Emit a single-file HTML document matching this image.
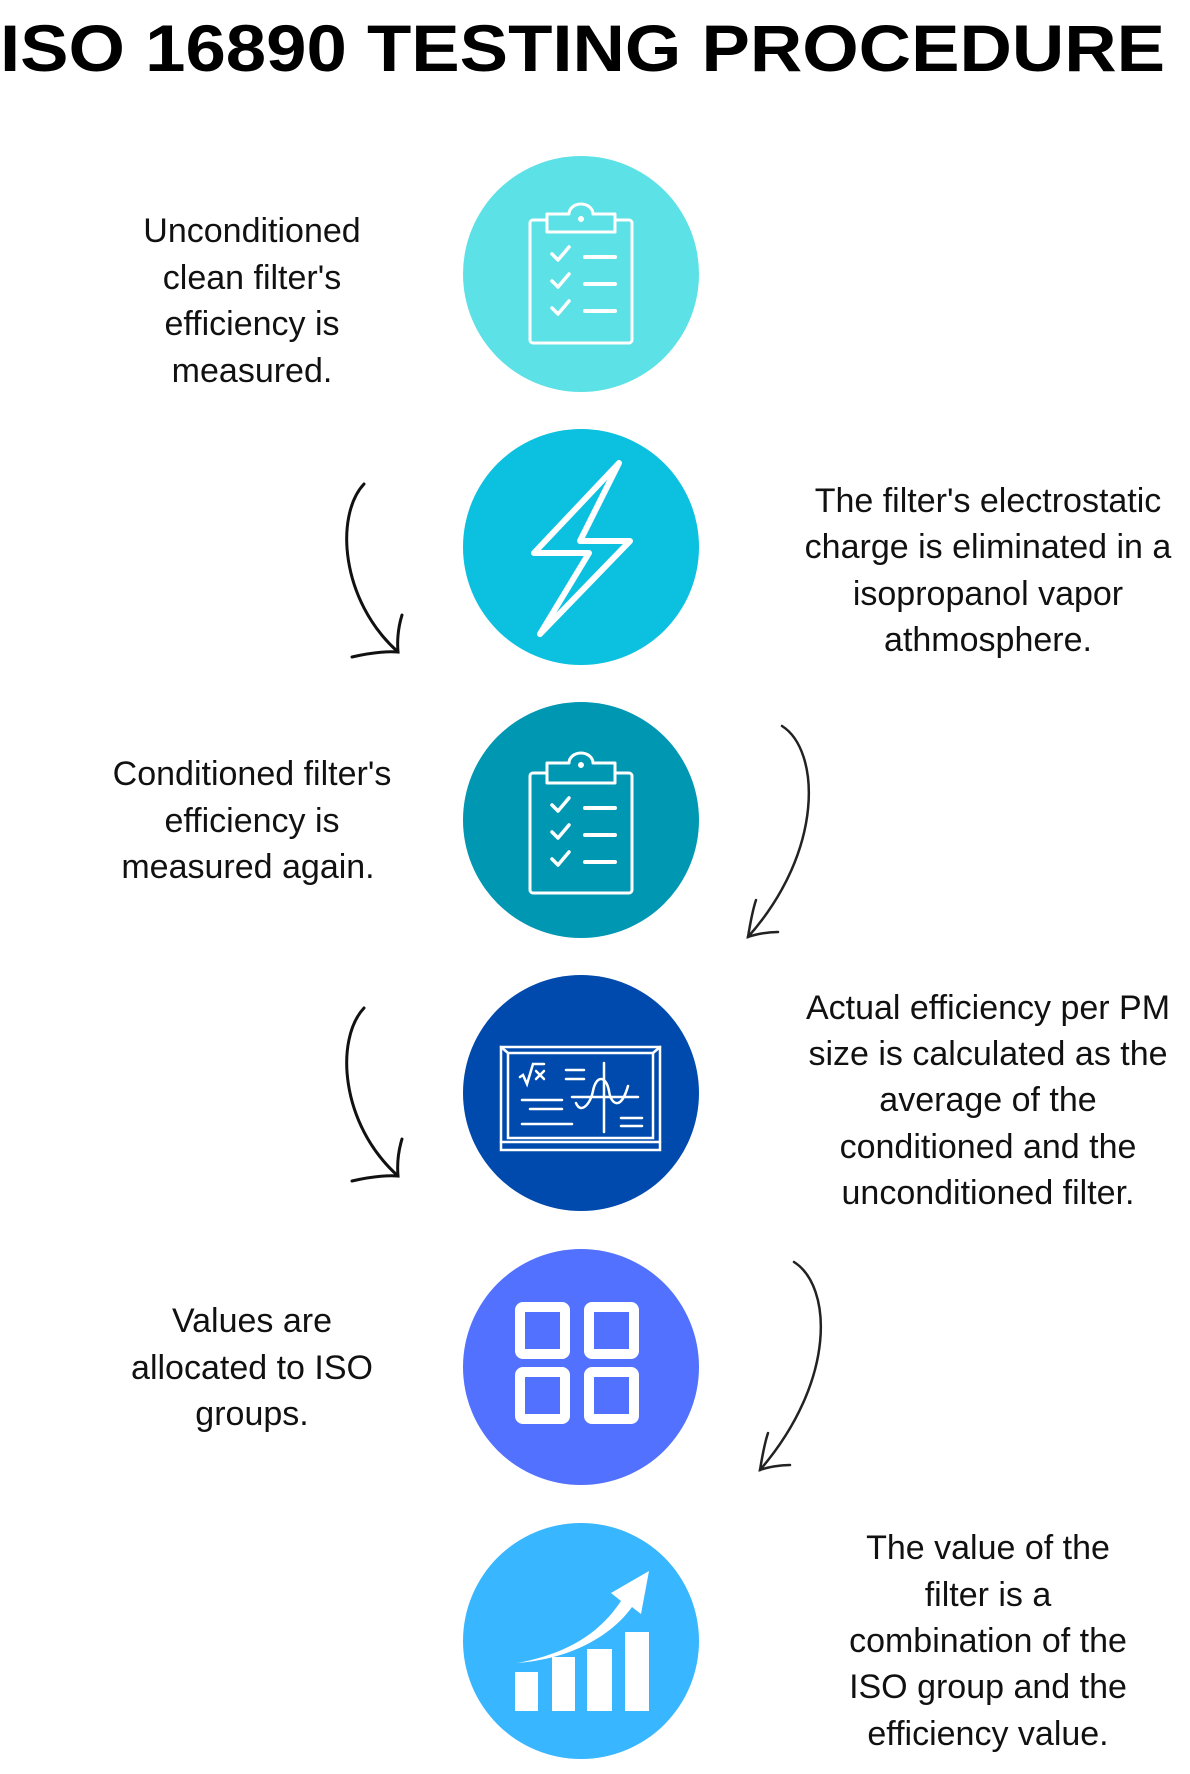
<!DOCTYPE html>
<html><head><meta charset="utf-8"><style>
html,body{margin:0;padding:0;background:#fff;}
body{width:1190px;height:1774px;overflow:hidden;}
svg{display:block;}
text{font-family:"Liberation Sans",sans-serif;}
</style></head><body>
<svg width="1190" height="1774" viewBox="0 0 1190 1774" xmlns="http://www.w3.org/2000/svg">
<text x="0" y="71" font-size="66" font-weight="bold" textLength="1165" lengthAdjust="spacingAndGlyphs" fill="#000">ISO 16890 TESTING PROCEDURE</text>

<g font-size="34" fill="#111" text-anchor="middle">
<text x="252" y="242">Unconditioned</text>
<text x="252" y="289">clean filter's</text>
<text x="252" y="335">efficiency is</text>
<text x="252" y="382">measured.</text>

<text x="988" y="512">The filter's electrostatic</text>
<text x="988" y="558">charge is eliminated in a</text>
<text x="988" y="605">isopropanol vapor</text>
<text x="988" y="651">athmosphere.</text>

<text x="252" y="785">Conditioned filter's</text>
<text x="252" y="832">efficiency is</text>
<text x="248" y="878">measured again.</text>

<text x="988" y="1019">Actual efficiency per PM</text>
<text x="988" y="1065">size is calculated as the</text>
<text x="988" y="1111">average of the</text>
<text x="988" y="1158">conditioned and the</text>
<text x="988" y="1204">unconditioned filter.</text>

<text x="252" y="1332">Values are</text>
<text x="252" y="1379">allocated to ISO</text>
<text x="252" y="1425">groups.</text>

<text x="988" y="1559">The value of the</text>
<text x="988" y="1606">filter is a</text>
<text x="988" y="1652">combination of the</text>
<text x="988" y="1698">ISO group and the</text>
<text x="988" y="1745">efficiency value.</text>
</g>

<circle cx="581" cy="274" r="118" fill="#5ce1e6"/>
<circle cx="581" cy="547" r="118" fill="#0cc0df"/>
<circle cx="581" cy="820" r="118" fill="#0097b2"/>
<circle cx="581" cy="1093" r="118" fill="#004aad"/>
<circle cx="581" cy="1367" r="118" fill="#5271ff"/>
<circle cx="581" cy="1641" r="118" fill="#38b6ff"/>

<g transform="translate(581,274)" fill="none" stroke="#fff" stroke-width="3" stroke-linecap="round" stroke-linejoin="round">
<rect x="-51" y="-54" width="102" height="123" rx="3"/>
<path d="M-34,-60 h22 a12,10 0 0 1 24,0 h22 v18 h-68 z" fill="#5ce1e6"/>
<circle cx="0" cy="-55" r="1.5" fill="#fff"/>
<path d="M-29,-20 l6,6 l11,-13 M-29,7 l6,6 l11,-13 M-29,34 l6,6 l11,-13" stroke-width="3.5"/>
<path d="M4,-17 h30 M4,10 h30 M4,37 h30" stroke-width="4"/>
</g>
<g transform="translate(581,820)" fill="none" stroke="#fff" stroke-width="3" stroke-linecap="round" stroke-linejoin="round">
<rect x="-51" y="-47" width="102" height="120" rx="3"/>
<path d="M-34,-57 h22 a12,10 0 0 1 24,0 h22 v20 h-68 z" fill="#0097b2"/>
<circle cx="0" cy="-55" r="1.5" fill="#fff"/>
<path d="M-29,-15 l6,6 l11,-13 M-29,12 l6,6 l11,-13 M-29,39 l6,6 l11,-13" stroke-width="3.5"/>
<path d="M4,-12 h30 M4,15 h30 M4,42 h30" stroke-width="4"/>
</g>

<path transform="translate(581,547)" d="M38,-84 L-47,6 L8,6 L-41,87 L49,-6 L-1,-6 Z" fill="none" stroke="#fff" stroke-width="6" stroke-linejoin="round"/>

<g transform="translate(581,1093)" fill="none" stroke="#fff" stroke-width="2.5" stroke-linecap="round">
<rect x="-80" y="-46" width="159" height="103"/>
<rect x="-73" y="-40" width="145" height="85"/>
<path d="M-80,-46 L-73,-40 M79,-46 L72,-40 M-80,49 H79"/>
<path d="M-61,-16 l3,-2 l4,9 l6,-20 h11 M-45,-22 l8,8 M-45,-14 l8,-8 M-15,-23 h18 M-15,-14 h18"/>
<path d="M-59,7 h40 M-51,16 h32 M-59,31 h50 M-9,4 h66 M23,-30 v69 M40,25 h21 M40,33 h21"/>
<path d="M-5,10 C0,22 10,10 12,-2 C15,-18 25,-18 28,-2 C30,12 40,18 47,-7"/>
</g>

<g transform="translate(581,1367)" fill="#5271ff" stroke="#fff" stroke-width="10">
<rect x="-61" y="-60" width="45" height="47" rx="3"/>
<rect x="8" y="-60" width="45" height="47" rx="3"/>
<rect x="-61" y="5" width="45" height="47" rx="3"/>
<rect x="8" y="5" width="45" height="47" rx="3"/>
</g>

<g transform="translate(581,1641)" fill="#fff">
<rect x="-66" y="31" width="23" height="39"/>
<rect x="-29" y="16" width="23" height="54"/>
<rect x="6" y="8" width="25" height="62"/>
<rect x="44" y="-9" width="24" height="79"/>
<path d="M-64,22 C-10,12 20,-10 40,-40 L30,-48 L68,-70 L60,-27 L51,-34 C30,-5 -10,18 -64,22 Z"/>
</g>

<g fill="none" stroke="#111" stroke-width="3" stroke-linecap="round">
<path d="M364,484 C335,515 340,600 398,652"/>
<path d="M352,657 C370,653 385,651 398,652 C397,640 398,628 402,615"/>
<path d="M364,1008 C335,1039 340,1124 398,1176"/>
<path d="M352,1181 C370,1177 385,1175 398,1176 C397,1164 398,1152 402,1139"/>
</g>
<g fill="none" stroke="#222" stroke-width="2.5" stroke-linecap="round">
<path d="M782,726 C820,750 825,850 748,937"/>
<path d="M778,932 C768,932 756,934 748,937 C750,925 752,912 756,900"/>
<path d="M794,1262 C832,1286 837,1380 760,1470"/>
<path d="M790,1465 C780,1465 768,1467 760,1470 C762,1458 764,1445 768,1433"/>
</g>
</svg>
</body></html>
